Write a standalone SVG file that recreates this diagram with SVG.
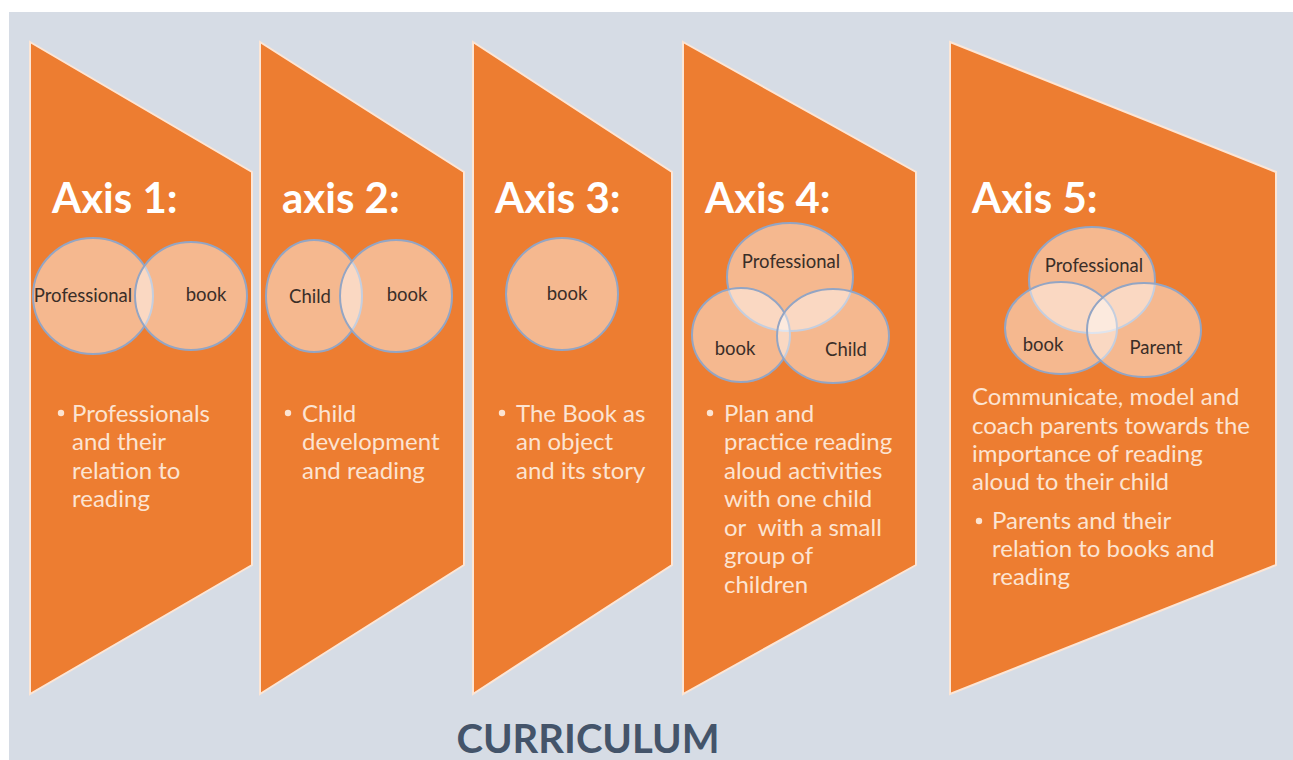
<svg xmlns="http://www.w3.org/2000/svg" width="1293" height="760" viewBox="0 0 1293 760">
  <style>
    .panel { fill: #ED7D31; stroke: #FCE6D6; stroke-width: 2; stroke-linejoin: miter; }
    .title { font-family: Lato, "Liberation Sans", sans-serif; font-weight: bold; font-size: 42px; fill: #FFFFFF; }
    .venn { fill: #FFFFFF; fill-opacity: 0.46; stroke: #93A5C4; stroke-width: 2; }
    .vlabel { font-family: Lato, "Liberation Sans", sans-serif; font-size: 18.5px; fill: #3A2E28; text-anchor: middle; }
    .body { font-family: Lato, "Liberation Sans", sans-serif; font-size: 24px; fill: #FCE4D2; }
    .dot { fill: #FCE4D2; }
    .caption { font-family: Lato, "Liberation Sans", sans-serif; font-weight: bold; font-size: 40px; fill: #44546A; text-anchor: middle; }
  </style>

  <!-- page -->
  <rect x="0" y="0" width="1293" height="760" fill="#FFFFFF"/>
  <rect x="9" y="12" width="1284" height="748" fill="#D6DCE5"/>

  <!-- Axis 1 -->
  <g id="axis1">
    <polygon class="panel" points="30,42 252,172 252,565 30,694"/>
    <text class="title" x="52" y="213">Axis 1:</text>
    <ellipse class="venn" cx="93" cy="296" rx="60" ry="58"/>
    <ellipse class="venn" cx="191" cy="296" rx="56" ry="54"/>
    <text class="vlabel" x="83" y="302">Professional</text>
    <text class="vlabel" x="206" y="301">book</text>
    <circle class="dot" cx="61" cy="413" r="3.2"/>
    <text class="body"><tspan x="72" y="422">Professionals</tspan><tspan x="72" y="450">and their</tspan><tspan x="72" y="479">relation to</tspan><tspan x="72" y="507">reading</tspan></text>
  </g>

  <!-- Axis 2 -->
  <g id="axis2">
    <polygon class="panel" points="260,42 464,172 464,565 260,694"/>
    <text class="title" x="282" y="213">axis 2:</text>
    <ellipse class="venn" cx="314" cy="296" rx="48" ry="56"/>
    <ellipse class="venn" cx="396" cy="296" rx="56" ry="56"/>
    <text class="vlabel" x="310" y="303">Child</text>
    <text class="vlabel" x="407" y="301">book</text>
    <circle class="dot" cx="288" cy="413" r="3.2"/>
    <text class="body"><tspan x="302" y="422">Child</tspan><tspan x="302" y="450">development</tspan><tspan x="302" y="479">and reading</tspan></text>
  </g>

  <!-- Axis 3 -->
  <g id="axis3">
    <polygon class="panel" points="473,42 672,172 672,565 473,694"/>
    <text class="title" x="495" y="213">Axis 3:</text>
    <ellipse class="venn" cx="562" cy="294" rx="56" ry="56"/>
    <text class="vlabel" x="567" y="300">book</text>
    <circle class="dot" cx="502" cy="413" r="3.2"/>
    <text class="body"><tspan x="516" y="422">The Book as</tspan><tspan x="516" y="450">an object</tspan><tspan x="516" y="479">and its story</tspan></text>
  </g>

  <!-- Axis 4 -->
  <g id="axis4">
    <polygon class="panel" points="683,42 916,172 916,565 683,694"/>
    <text class="title" x="705" y="213">Axis 4:</text>
    <ellipse class="venn" cx="790" cy="277" rx="63" ry="54"/>
    <ellipse class="venn" cx="741" cy="335" rx="49" ry="47"/>
    <ellipse class="venn" cx="833" cy="336" rx="56" ry="47"/>
    <text class="vlabel" x="791" y="268">Professional</text>
    <text class="vlabel" x="735" y="355">book</text>
    <text class="vlabel" x="846" y="356">Child</text>
    <circle class="dot" cx="710" cy="413" r="3.2"/>
    <text class="body" xml:space="preserve"><tspan x="724" y="422">Plan and</tspan><tspan x="724" y="450">practice reading</tspan><tspan x="724" y="479">aloud activities</tspan><tspan x="724" y="507">with one child</tspan><tspan x="724" y="536">or  with a small</tspan><tspan x="724" y="564">group of</tspan><tspan x="724" y="593">children</tspan></text>
  </g>

  <!-- Axis 5 -->
  <g id="axis5">
    <polygon class="panel" points="950,42 1276,172 1276,565 950,694"/>
    <text class="title" x="972" y="213">Axis 5:</text>
    <ellipse class="venn" cx="1092" cy="280" rx="63" ry="53"/>
    <ellipse class="venn" cx="1061" cy="328" rx="56" ry="46"/>
    <ellipse class="venn" cx="1144" cy="330" rx="57" ry="47"/>
    <text class="vlabel" x="1094" y="272">Professional</text>
    <text class="vlabel" x="1043" y="351">book</text>
    <text class="vlabel" x="1156" y="354">Parent</text>
    <text class="body"><tspan x="972" y="405">Communicate, model and</tspan><tspan x="972" y="434">coach parents towards the</tspan><tspan x="972" y="462">importance of reading</tspan><tspan x="972" y="490">aloud to their child</tspan></text>
    <circle class="dot" cx="979" cy="521" r="3.2"/>
    <text class="body"><tspan x="992" y="529">Parents and their</tspan><tspan x="992" y="557">relation to books and</tspan><tspan x="992" y="585">reading</tspan></text>
  </g>

  <!-- caption -->
  <text class="caption" x="588" y="753">CURRICULUM</text>
</svg>
